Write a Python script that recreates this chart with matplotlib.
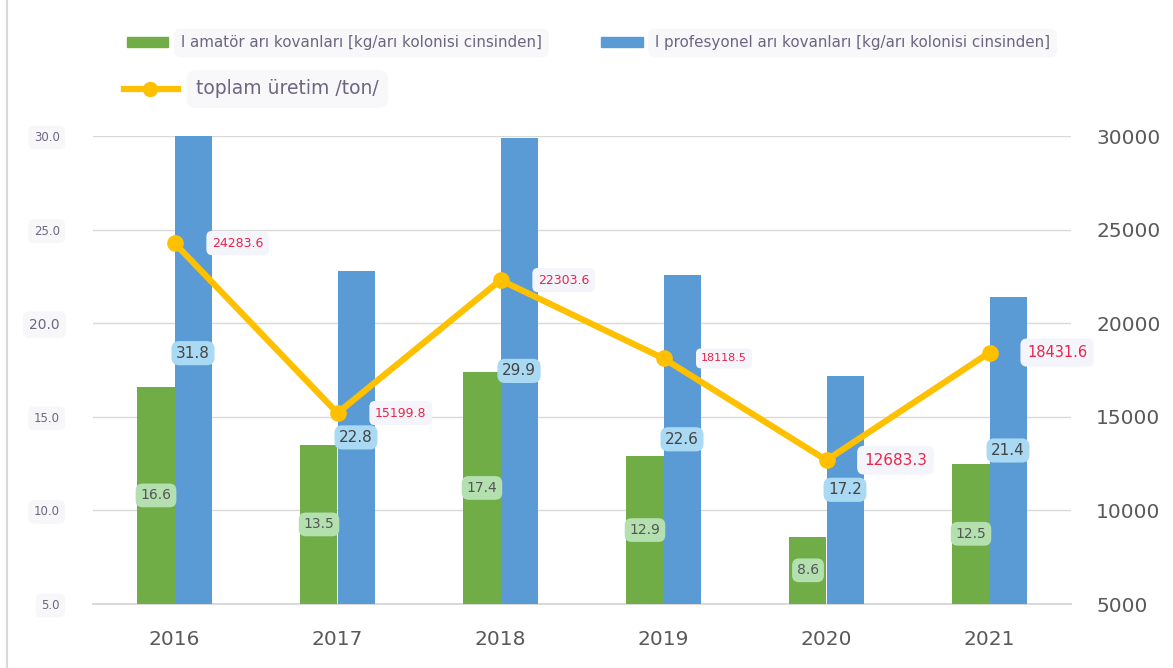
import numpy as np
import matplotlib.pyplot as plt
from matplotlib.patches import Rectangle
from matplotlib.lines import Line2D

years = ['2016', '2017', '2018', '2019', '2020', '2021']
amator = [16.6, 13.5, 17.4, 12.9, 8.6, 12.5]
profesyonel = [31.8, 22.8, 29.9, 22.6, 17.2, 21.4]
toplam = [24283.6, 15199.8, 22303.6, 18118.5, 12683.3, 18431.6]
left_ticks = [5.0, 10.0, 15.0, 20.0, 25.0, 30.0]
right_ticks = [5000, 10000, 15000, 20000, 25000, 30000]

name_amator = 'l amatör arı kovanları [kg/arı kolonisi cinsinden]'
name_prof = 'l profesyonel arı kovanları [kg/arı kolonisi cinsinden]'
name_toplam = 'toplam üretim /ton/'

green = '#70ad47'
blue = '#5b9bd5'
gold = '#ffc000'
txtgray = '#6e6680'

fig = plt.figure(figsize=(11.73, 6.68), dpi=100)
ax = fig.add_axes([93 / 1173, 1 - 604 / 668, (1071 - 93) / 1173, 468 / 668])
ax2 = ax.twinx()

x = np.arange(len(years))
w = 0.227
ax.bar(x - w / 2, amator, w, color=green, zorder=2)
ax.bar(x + w / 2, profesyonel, w, color=blue, zorder=2)
ax.set_xlim(-0.5, 5.5)
ax.set_ylim(5, 30)

# bar labels sit at the middle of each bar
for i in range(len(years)):
    ax.text(x[i] - w / 2, (5 + amator[i]) / 2, f'{amator[i]:.1f}', ha='center', va='center',
            fontsize=10, color='#555555', zorder=5,
            bbox=dict(boxstyle='round,pad=0.35,rounding_size=0.5', fc='#b4e0b0', ec='none'))
    ax.text(x[i] + w / 2, (5 + profesyonel[i]) / 2, f'{profesyonel[i]:.1f}', ha='center', va='center',
            fontsize=11, color='#444444', zorder=5,
            bbox=dict(boxstyle='round,pad=0.3,rounding_size=0.5', fc='#a9d9f3', ec='none'))

ax.set_yticks(left_ticks)
ax.set_yticklabels([f'{t:.1f}' for t in left_ticks])
for lab, t in zip(ax.get_yticklabels(), left_ticks):
    lab.set_fontsize(10 if t == 20.0 else 8.5)
    lab.set_color(txtgray)
    lab.set_bbox(dict(boxstyle='round,pad=0.45', fc='#f7f7f9', ec='none'))
ax.tick_params(axis='y', length=0, pad=24)
ax.set_xticks(x)
ax.set_xticklabels(years, fontsize=14.5, color='#595959')
ax.tick_params(axis='x', length=0, pad=19)
ax.grid(axis='y', color='#d9d9d9', lw=1, zorder=0)
ax.axhline(5, color='#d9d9d9', lw=1.5, zorder=1, clip_on=False)
for s in ax.spines.values():
    s.set_visible(False)

ax2.plot(x, toplam, color=gold, lw=4.5, marker='o', ms=11, zorder=4)
ax2.set_ylim(5000, 30000)
ax2.set_yticks(right_ticks)
ax2.set_yticklabels([str(t) for t in right_ticks], fontsize=14.5, color='#595959')
ax2.tick_params(axis='y', length=0, pad=18)
for s in ax2.spines.values():
    s.set_visible(False)

lab_sizes = [9, 9, 9, 8, 11, 10.5]
for i in range(len(years)):
    ax2.annotate(f'{toplam[i]:.1f}', (x[i], toplam[i]), xytext=(27, 0), textcoords='offset points',
                 ha='left', va='center', fontsize=lab_sizes[i], color='#e8254a', zorder=6,
                 bbox=dict(boxstyle='round,pad=0.45', fc='#f4f5fa', ec='none'))

# legend drawn by hand
fig.add_artist(Rectangle((127 / 1173, 1 - 47 / 668), 41 / 1173, 10 / 668, color=green,
                         transform=fig.transFigure))
fig.text(181 / 1173, 1 - 43 / 668, name_amator, fontsize=10.9, color=txtgray, va='center',
         bbox=dict(boxstyle='round,pad=0.45', fc='#f8f8fb', ec='none'))
fig.add_artist(Rectangle((601 / 1173, 1 - 47 / 668), 42 / 1173, 10 / 668, color=blue,
                         transform=fig.transFigure))
fig.text(655 / 1173, 1 - 43 / 668, name_prof, fontsize=10.9, color=txtgray, va='center',
         bbox=dict(boxstyle='round,pad=0.45', fc='#f8f8fb', ec='none'))
fig.add_artist(Line2D([124 / 1173, 178 / 1173], [1 - 89 / 668, 1 - 89 / 668], color=gold, lw=4.5,
                      transform=fig.transFigure))
fig.add_artist(Line2D([150 / 1173], [1 - 89 / 668], color=gold, marker='o', ms=10,
                      transform=fig.transFigure))
fig.text(196 / 1173, 1 - 89 / 668, name_toplam, fontsize=13.5, color=txtgray, va='center',
         bbox=dict(boxstyle='round,pad=0.5', fc='#f8f8fb', ec='none'))

fig.add_artist(Line2D([7 / 1173, 7 / 1173], [0, 1], color='#d9d9d9', lw=1.5, transform=fig.transFigure))

fig.savefig('out.png', dpi=100)
